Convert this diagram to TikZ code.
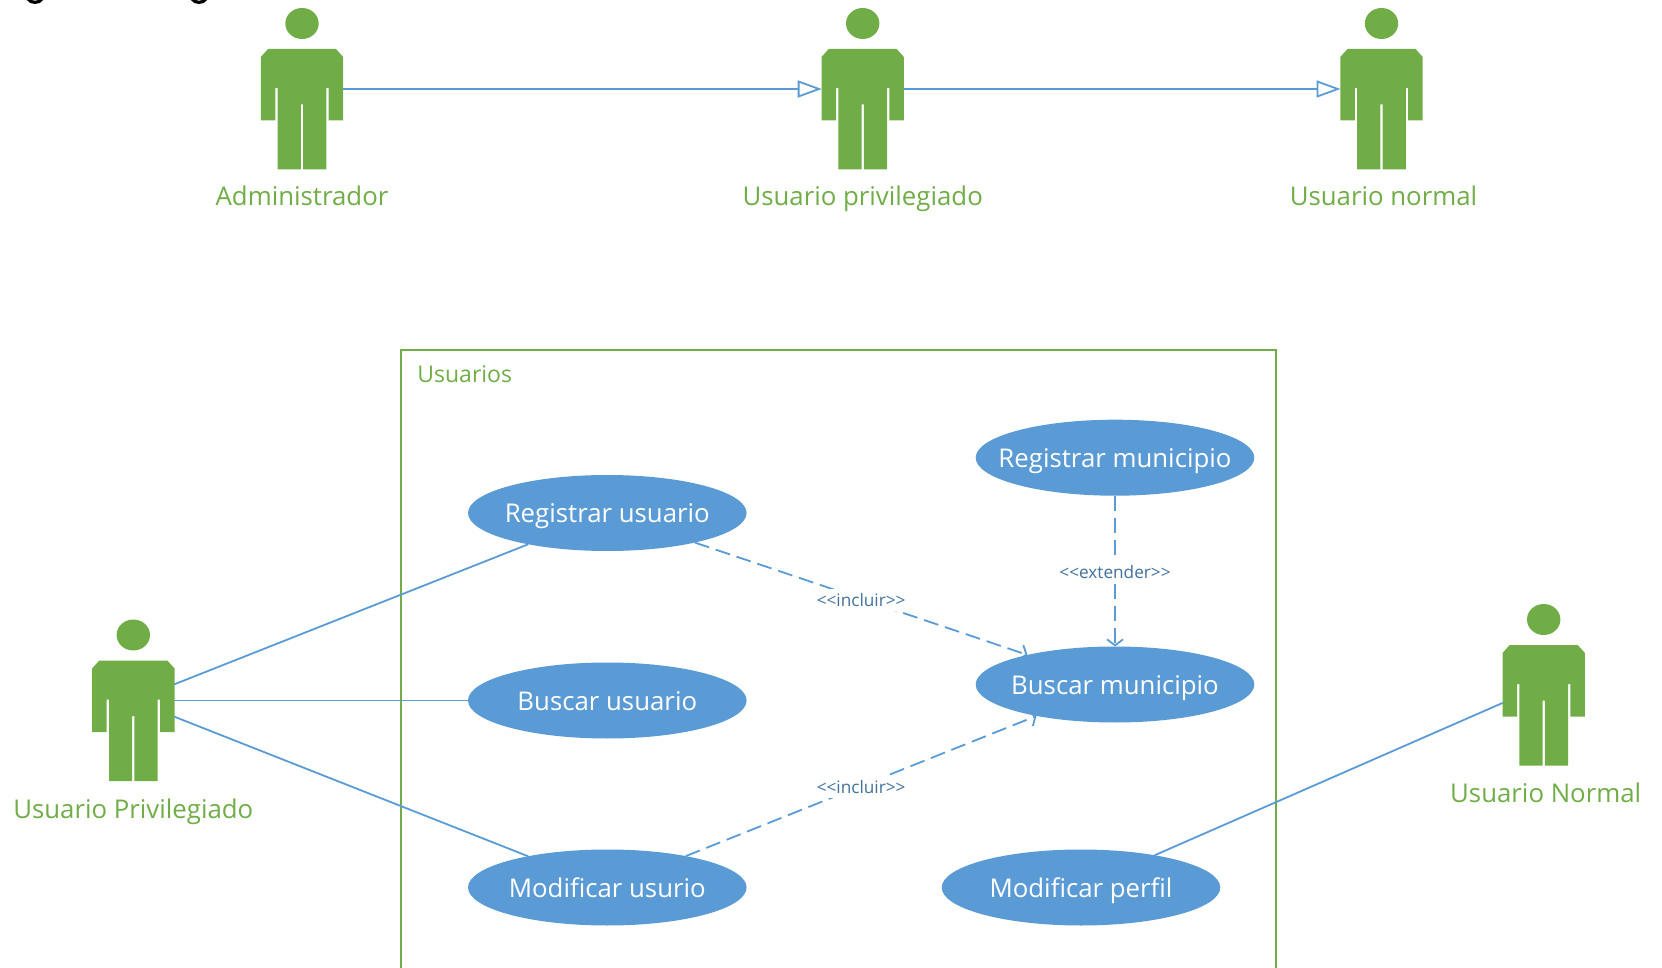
\documentclass[tikz,border=0pt]{standalone}
\usepackage{fontspec}
\setmainfont{Open Sans}
\usetikzlibrary{shapes.geometric,arrows.meta}
\definecolor{grn}{HTML}{70AD47}
\definecolor{blu}{HTML}{5B9BD5}
\definecolor{lbl}{HTML}{41719C}
\newcommand{\zw}[1]{\makebox[0pt][c]{#1}}
\tikzset{
  usecase/.style={ellipse,fill=blu,text=white,minimum width=139.3pt,minimum height=38pt,inner sep=0pt,outer sep=0pt,font=\fontsize{12.9}{14}\selectfont,text height=10.6pt,text depth=0.64pt},
  actoranchor/.style={rectangle,minimum width=41pt,minimum height=30pt,inner sep=0pt,outer sep=0pt},
  actorlabel/.style={text=grn,anchor=base,inner sep=0pt,font=\fontsize{12.9}{14}\selectfont},
  assoc/.style={draw=blu,line width=0.9pt},
  gener/.style={assoc,-{Triangle[open,length=12pt,width=8.5pt,line width=0.9pt]}},
  dep/.style={assoc,dash pattern=on 7.5pt off 3.5pt,-{Straight Barb[length=3pt,width=8pt,line width=0.9pt]}},
  deplabel/.style={fill=white,text=lbl,inner sep=0pt,minimum height=11pt,yshift=-0.5pt,font=\fontsize{8.6}{10}\selectfont},
}
\newcommand{\actorfig}[6]{%
  \begin{scope}[shift={(#2,#3)}]
    \fill[grn] (0,23.5) ellipse [x radius=16.7,y radius=15.5];
    \fill[grn] (-34,49)--(34,49)--(41.2,57)--(41.2,120.5)--(26.7,120.5)--(26.7,88)--(24.3,88)--(24.3,169.5)--(1.1,169.5)--(1.1,104.5)--(-1.1,104.5)--(-1.1,169.5)--(-24.3,169.5)--(-24.3,88)--(-26.7,88)--(-26.7,120.5)--(-41.2,120.5)--(-41.2,57)--cycle;
    \node[actoranchor] (#1) at (0,89) {};
    \node[actorlabel] (#1l) at (#5,#6) {#4};
  \end{scope}}
\begin{document}
\begin{tikzpicture}[x=0.5pt,y=-0.5pt]
\useasboundingbox (0,0) rectangle (1662,968);
\clip (0,0) rectangle (1662,968);
% clipped descenders of the caption above the picture
\draw[black,line width=1.6pt] (28,-1) .. controls (31,3.5) and (39,3.5) .. (42,-1);
\draw[black,line width=1.6pt] (192,-1) .. controls (195,3.5) and (203,3.5) .. (206,-1);
% frame
\draw[grn,line width=0.9pt] (401,970)--(401,350)--(1276,350)--(1276,970);
\node[text=grn,anchor=base west,inner sep=0pt,font=\fontsize{11.5}{13}\selectfont] (frametitle) at (417,382.5) {Usuarios};
% actors
\actorfig{adm}{302}{0}{Administrador}{0}{206}
\actorfig{priv}{862.7}{0}{Usuario privilegiado}{0}{206}
\actorfig{norm}{1381.5}{0}{Usuario normal}{2}{206}
\actorfig{up}{133.3}{611.5}{Usuario Privilegiado}{0}{207}
\actorfig{un}{1543.7}{596}{Usuario Normal}{2}{206}
% use cases
\node[usecase] (ru) at (607.3,513) {\zw{Registrar usuario}};
\node[usecase] (bu) at (607.3,700.5) {\zw{Buscar usuario}};
\node[usecase] (mu) at (607.3,887.5) {\zw{Modificar usurio}};
\node[usecase] (rm) at (1115,457.7) {\zw{Registrar municipio}};
\node[usecase] (bm) at (1115,684.5) {\zw{Buscar municipio}};
\node[usecase] (mp) at (1081,887.5) {\zw{Modificar perfil}};
% connectors
\draw[gener] (adm) -- (priv);
\draw[gener] (priv) -- (norm);
\draw[assoc] (up) -- (ru);
\draw[assoc] (up) -- (bu);
\draw[assoc] (up) -- (mu);
\draw[assoc] (un) -- (mp);
\draw[dep] (ru) -- node[deplabel] (l1) {{<}{<}incluir{>}{>}} (bm);
\draw[dep] (mu) -- node[deplabel] (l2) {{<}{<}incluir{>}{>}} (bm);
\draw[dep] (rm) -- node[deplabel] (l3) {{<}{<}extender{>}{>}} (bm);
\end{tikzpicture}
\end{document}
